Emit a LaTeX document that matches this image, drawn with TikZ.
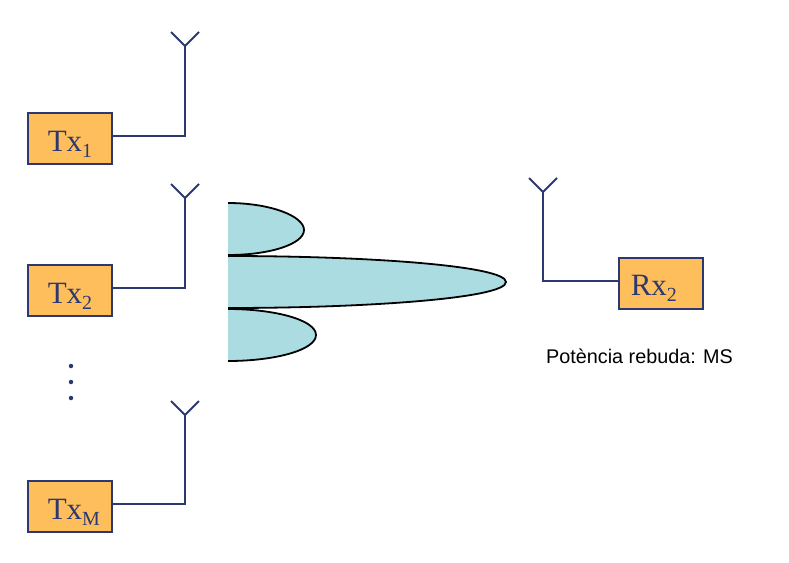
\documentclass[tikz,border=0pt]{standalone}
\usepackage{fontspec}
\setmainfont{Liberation Serif}
\newfontfamily\labelsans{Liberation Sans}
\definecolor{boxfill}{RGB}{255,190,92}
\definecolor{navyline}{RGB}{44,56,112}
\definecolor{lobefill}{RGB}{170,220,226}
\newcommand{\boxlabel}[4]{\makebox[0pt][l]{\hspace*{#3}\smash{\raisebox{#4}{\fontsize{31}{31}\selectfont #1\raisebox{-5.5pt}{\fontsize{20}{20}\selectfont #2}}}}}
\tikzset{
  radio/.style={draw=navyline,line width=2pt,fill=boxfill,minimum width=83.5pt,minimum height=51pt,inner sep=0pt,text=navyline,anchor=north west},
  wire/.style={draw=navyline,line width=2pt},
  lobe/.style={draw=black,line width=1.8pt,fill=lobefill},
  dotmark/.style={circle,fill=navyline,inner sep=0pt,minimum size=4.5pt}
}
\begin{document}
\begin{tikzpicture}[x=1pt,y=-1pt]
\useasboundingbox (0,0) rectangle (789,562);
% lobes
\path[lobe,draw=none] (228,203) .. controls (270,203) and (304,216) .. (304,230) .. controls (304,244) and (270,255) .. (228,255) -- cycle;
\draw[lobe,fill=none] (228,203) .. controls (270,203) and (304,216) .. (304,230) .. controls (304,244) and (270,255) .. (228,255);
\path[lobe,draw=none] (228,309) .. controls (275,309) and (316,320) .. (316,335) .. controls (316,350) and (275,361) .. (228,361) -- cycle;
\draw[lobe,fill=none] (228,309) .. controls (275,309) and (316,320) .. (316,335) .. controls (316,350) and (275,361) .. (228,361);
\path[lobe,draw=none] (228,256) .. controls (370,256) and (506,266) .. (506,282) .. controls (506,298) and (370,308) .. (228,308) -- cycle;
\draw[lobe,fill=none] (228,256) .. controls (370,256) and (506,266) .. (506,282) .. controls (506,298) and (370,308) .. (228,308);
% boxes
\node[radio] (tx1) at (27,112) {\boxlabel{Tx}{1}{-22pt}{-13pt}};
\node[radio] (tx2) at (27,264) {\boxlabel{Tx}{2}{-22pt}{-13pt}};
\node[radio] (txm) at (27,480) {\boxlabel{Tx}{M}{-22pt}{-13pt}};
\node[radio] (rx2) at (618,257) {\boxlabel{Rx}{2}{-30pt}{-12pt}};
% antennas
\coordinate (a1) at (185,46); \coordinate (a1l) at (171,32); \coordinate (a1r) at (199,32);
\coordinate (a2) at (185,198); \coordinate (a2l) at (171,184); \coordinate (a2r) at (199,184);
\coordinate (am) at (185,415); \coordinate (aml) at (171,401); \coordinate (amr) at (199,401);
\coordinate (ar) at (543,192); \coordinate (arl) at (529,178); \coordinate (arr) at (557,178);
\draw[wire] ([yshift=2.5pt]tx1.east) -| (a1);
\draw[wire] (a1l) -- (a1) -- (a1r);
\draw[wire] ([yshift=2.5pt]tx2.east) -| (a2);
\draw[wire] (a2l) -- (a2) -- (a2r);
\draw[wire] ([yshift=2.5pt]txm.east) -| (am);
\draw[wire] (aml) -- (am) -- (amr);
\draw[wire] ([yshift=2.5pt]rx2.west) -| (ar);
\draw[wire] (arl) -- (ar) -- (arr);
% dots
\node[dotmark] (d1) at (71,366) {};
\node[dotmark] (d2) at (71,382) {};
\node[dotmark] (d3) at (71,398) {};
% caption
\node[anchor=base west,inner sep=0pt,text=black] (cap) at (546,363) {\labelsans\fontsize{19.8}{20}\selectfont Potència rebuda: MS};
\end{tikzpicture}
\end{document}
